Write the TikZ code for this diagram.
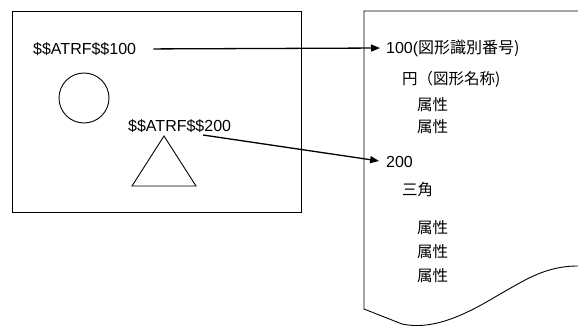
\documentclass[tikz,border=0pt]{standalone}
\usepackage{fontspec}
\setmainfont{Liberation Sans}
\newfontfamily\cjk{Noto Sans CJK JP}
\usetikzlibrary{arrows.meta}
\begin{document}
\begin{tikzpicture}[x=1pt,y=-1pt,
  lbl/.style={font=\fontsize{16}{18}\selectfont, inner sep=0pt, anchor=west},
  jlbl/.style={font=\fontsize{15.5}{18}\selectfont\cjk, inner sep=0pt, anchor=west},
  outl/.style={draw=black, line width=0.9pt},
  arr/.style={draw=black, line width=1.3pt, -{Triangle[length=9pt,width=7pt]}}]
\useasboundingbox (0,0) rectangle (578,326);
% left panel
\draw[outl] (12,11) rectangle (301,212);
\node[lbl] (a100) at (33,49) {\$\$ATRF\$\$100};
\node[lbl] (a200) at (128,126) {\$\$ATRF\$\$200};
\draw[outl] (84,98) circle (25);
\draw[outl] (164,136) -- (196,186) -- (132,186) -- cycle;
% right sheet
\draw[outl] (578,11) -- (364,11) -- (364,309) -- (402,324)
  .. controls (430,330) and (460,318) .. (495,297)
  .. controls (525,280) and (545,266) .. (578,266);
\node[lbl] (t100) at (386,48) {100(\cjk 図形識別番号)};
\node[jlbl] (n1) at (402,79) {円（図形名称)};
\node[jlbl] (p1) at (417,105) {属性};
\node[jlbl] (p2) at (417,127) {属性};
\node[lbl] (t200) at (386,162) {200};
\node[jlbl] (n2) at (402,190) {三角};
\node[jlbl] (p3) at (417,228) {属性};
\node[jlbl] (p4) at (417,252) {属性};
\node[jlbl] (p5) at (417,276) {属性};
% connectors
\coordinate (s2) at (203,135);
\draw[arr, shorten <=17pt, shorten >=6pt] (a100.east) -- (t100.west);
\draw[arr, shorten >=7pt] (s2) -- (t200.west);
\end{tikzpicture}
\end{document}
